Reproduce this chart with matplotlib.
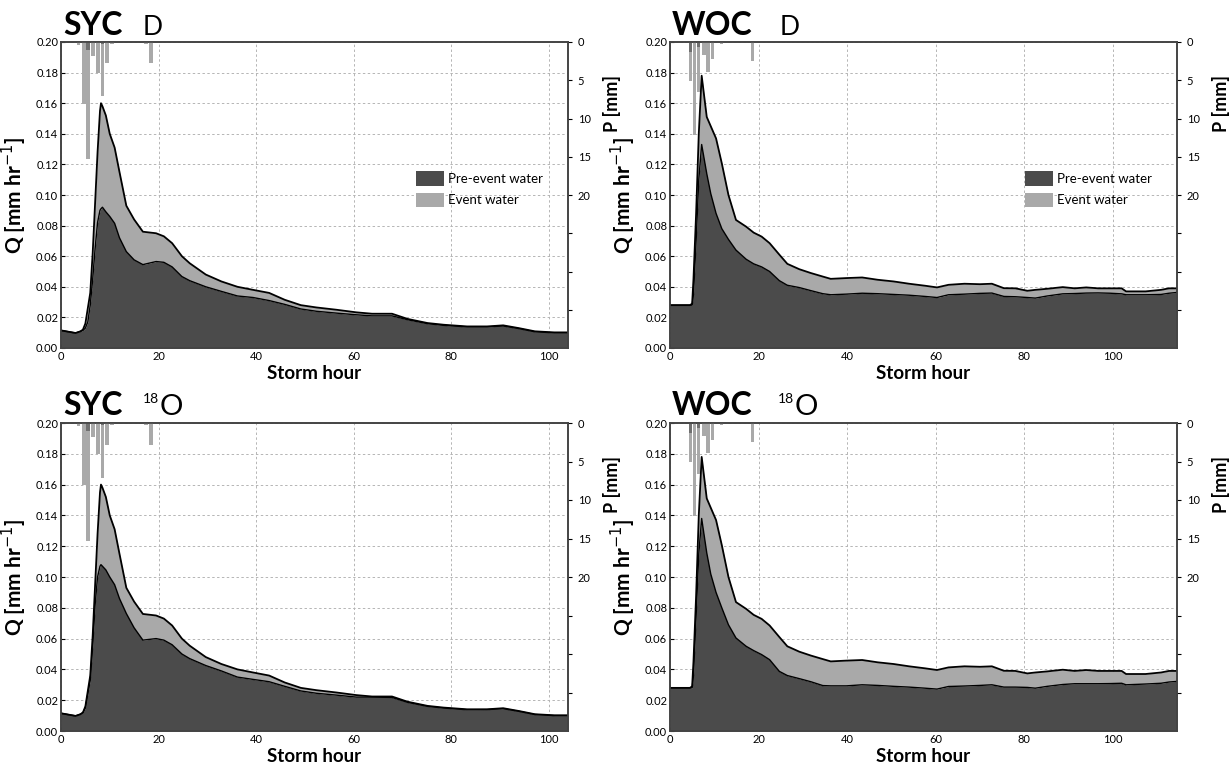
import numpy as np
import matplotlib
matplotlib.use("Agg")
import matplotlib.pyplot as plt
from matplotlib.patches import Patch

plt.rcParams['font.family'] = ['Lato', 'DejaVu Sans']

# ---------------- data ----------------
# SYC catchment
syc_hours = [0, 3, 4, 4.5, 5, 5.5, 6, 6.5, 7, 7.5, 8, 8.2, 8.5, 9.2, 10, 11, 12, 13.4, 15, 16.8,
             19.5, 21.1, 22.8, 24.8, 26.4, 29.7, 32.9, 36.2, 39.4, 42.7, 45.9, 49.2, 52.4, 56.5,
             60.6, 63.8, 67.9, 71.1, 75.2, 78.5, 83.3, 87.4, 90.7, 93.9, 97.2, 101.2, 104]
syc_total = [0.0115, 0.0098, 0.0109, 0.012, 0.016, 0.026, 0.036, 0.062, 0.095, 0.128, 0.155, 0.160,
             0.158, 0.152, 0.140, 0.131, 0.115, 0.093, 0.084, 0.076,
             0.075, 0.073, 0.0685, 0.060, 0.0554, 0.048, 0.0435, 0.040, 0.038, 0.036, 0.0315, 0.028,
             0.0265, 0.025, 0.0233, 0.0224, 0.0224, 0.019, 0.0163, 0.0152, 0.0141, 0.0141, 0.0148,
             0.013, 0.0109, 0.0102, 0.0102]
syc_pre_d = [0.0115, 0.0098, 0.0109, 0.0115, 0.013, 0.017, 0.028, 0.045, 0.065, 0.082, 0.090, 0.091,
             0.092, 0.089, 0.086, 0.0815, 0.072, 0.063, 0.0576, 0.0545,
             0.0565, 0.056, 0.053, 0.0467, 0.044, 0.040, 0.037, 0.034, 0.033, 0.031, 0.0285, 0.0255,
             0.024, 0.0228, 0.0217, 0.021, 0.021, 0.0185, 0.0159, 0.0148, 0.0138, 0.0138, 0.0144,
             0.0127, 0.0106, 0.0099, 0.0099]
syc_pre_o = [0.0115, 0.0098, 0.0109, 0.012, 0.015, 0.024, 0.033, 0.055, 0.082, 0.100, 0.107, 0.108,
             0.107, 0.1046, 0.100, 0.095, 0.086, 0.0763, 0.067, 0.059,
             0.060, 0.059, 0.056, 0.050, 0.047, 0.0425, 0.039, 0.035, 0.0335, 0.032, 0.029, 0.026,
             0.0245, 0.0233, 0.022, 0.022, 0.0218, 0.0186, 0.016, 0.0149, 0.0138, 0.0139, 0.0145,
             0.0128, 0.0107, 0.0100, 0.0100]

# WOC catchment
woc_hours = [0, 4.5, 5, 5.3, 5.9, 6.5, 7.15, 8.3, 9.2, 10.4, 11.7, 13.2, 14.9, 17.2, 18.9, 20.7,
             22.5, 24.7, 26.5, 29.2, 31.8, 34.5, 36.3, 39.8, 43.4, 46.9, 50.5, 54, 57.6, 60.3,
             62.9, 66.5, 70, 72.7, 75.4, 78, 80.7, 82.5, 85.2, 88.7, 91.4, 94, 96.7, 99.4, 102,
             103, 107.4, 110.9, 112.7, 114.5]
woc_total = [0.028, 0.028, 0.029, 0.045, 0.088, 0.140, 0.178, 0.151, 0.145, 0.137, 0.1207, 0.100,
             0.0837, 0.0793, 0.0754, 0.0728, 0.0685, 0.061, 0.055, 0.0515, 0.049, 0.0467, 0.0452,
             0.0457, 0.0461, 0.0446, 0.0435, 0.042, 0.0407, 0.0396, 0.0413, 0.042, 0.0417, 0.042,
             0.0391, 0.039, 0.0374, 0.038, 0.0387, 0.0398, 0.039, 0.0396, 0.039, 0.039, 0.039,
             0.037, 0.037, 0.038, 0.039, 0.039]
woc_pre_d = [0.028, 0.028, 0.028, 0.035, 0.070, 0.110, 0.133, 0.114, 0.101, 0.088, 0.078, 0.071,
             0.064, 0.058, 0.055, 0.053, 0.050, 0.044, 0.041, 0.0395, 0.0375, 0.0355, 0.0348,
             0.0352, 0.0358, 0.0355, 0.035, 0.0345, 0.0337, 0.033, 0.0348, 0.0352, 0.0357, 0.0359,
             0.0337, 0.0335, 0.033, 0.0326, 0.034, 0.0354, 0.0356, 0.0359, 0.036, 0.0358, 0.0354,
             0.0348, 0.0348, 0.035, 0.0358, 0.0363]
woc_pre_o = [0.028, 0.028, 0.028, 0.036, 0.075, 0.115, 0.138, 0.1157, 0.102, 0.090, 0.080, 0.069,
             0.0604, 0.055, 0.0522, 0.0496, 0.0463, 0.0387, 0.036, 0.034, 0.032, 0.0295, 0.0293,
             0.0293, 0.030, 0.0296, 0.029, 0.0285, 0.0278, 0.0272, 0.0289, 0.0292, 0.0296, 0.030,
             0.0285, 0.0285, 0.0283, 0.0278, 0.029, 0.0302, 0.0307, 0.0307, 0.0307, 0.0308, 0.031,
             0.030, 0.0305, 0.031, 0.0318, 0.0322]

# precipitation (hourly bars, mm), light = main gauge, dark = overlapping part
syc_p_hours = [3.6, 4.7, 5.55, 6.5, 7.6, 8.5, 9.5, 10.4, 17.5, 18.4]
syc_p_mm = [0.4, 8.1, 15.3, 1.8, 4.05, 7.1, 2.8, 0.2, 0.3, 2.8]
syc_pd_hours = [5.55, 8.5]
syc_pd_mm = [1.0, 0.3]

woc_p_hours = [4.6, 5.6, 6.5, 7.7, 8.6, 9.6, 11.6, 18.6]
woc_p_mm = [5.1, 12.1, 6.6, 1.65, 3.95, 2.2, 0.2, 2.5]
woc_pd_hours = [4.6, 6.5]
woc_pd_mm = [1.3, 0.7]

# ---------------- style ----------------
DARK = '#4b4b4b'
LIGHT = '#a9a9a9'
W, H = 1231, 777

fig = plt.figure(figsize=(W / 100, H / 100), dpi=100)


def px_rect(l, t, r, b):
    return [l / W, 1 - b / H, (r - l) / W, (b - t) / H]


panels = [
    dict(rect=px_rect(61, 42, 568, 348), h=syc_hours, tot=syc_total, pre=syc_pre_d,
         ph=syc_p_hours, pm=syc_p_mm, pdh=syc_pd_hours, pdm=syc_pd_mm, xmax=104, legend=True,
         name='SYC', name_x=63, name_y=35, iso='D', iso_x=143),
    dict(rect=px_rect(670, 42, 1177, 348), h=woc_hours, tot=woc_total, pre=woc_pre_d,
         ph=woc_p_hours, pm=woc_p_mm, pdh=woc_pd_hours, pdm=woc_pd_mm, xmax=114.5, legend=True,
         name='WOC', name_x=672, name_y=35, iso='D', iso_x=780),
    dict(rect=px_rect(61, 423, 568, 731), h=syc_hours, tot=syc_total, pre=syc_pre_o,
         ph=syc_p_hours, pm=syc_p_mm, pdh=syc_pd_hours, pdm=syc_pd_mm, xmax=104, legend=False,
         name='SYC', name_x=63, name_y=415, iso='O', iso_x=160),
    dict(rect=px_rect(670, 423, 1177, 731), h=woc_hours, tot=woc_total, pre=woc_pre_o,
         ph=woc_p_hours, pm=woc_p_mm, pdh=woc_pd_hours, pdm=woc_pd_mm, xmax=114.5, legend=False,
         name='WOC', name_x=672, name_y=415, iso='O', iso_x=795),
]

for p in panels:
    ax = fig.add_axes(p['rect'])
    h = np.array(p['h'])
    tot = np.array(p['tot'])
    pre = np.array(p['pre'])
    ax.fill_between(h, 0, pre, color=DARK, lw=0, zorder=2)
    ax.fill_between(h, pre, tot, color=LIGHT, lw=0, zorder=2)
    ax.plot(h, tot, color='black', lw=1.3, zorder=3)
    ax.plot(h, pre, color='black', lw=1.0, zorder=3)
    ax.set_xlim(0, p['xmax'])
    ax.set_ylim(0, 0.2)
    ax.set_yticks(np.arange(0, 0.201, 0.02))
    ax.set_yticklabels([f'{v:.2f}' for v in np.arange(0, 0.201, 0.02)])
    ax.set_xticks([0, 20, 40, 60, 80, 100])
    ax.grid(True, color='#b5b5b5', ls=(0, (2.5, 2.5)), lw=0.7, zorder=0)
    ax.set_axisbelow(True)
    ax.tick_params(axis='both', labelsize=8, direction='in', length=3, width=0.8, pad=2)
    for s in ax.spines.values():
        s.set_color('#444444')
        s.set_linewidth(1.2)
    ax.set_xlabel('Storm hour', fontsize=13.5, fontweight='bold', labelpad=2)
    ax.set_ylabel('Q [mm hr$^{-1}$]', fontsize=15, fontweight='bold', labelpad=5)

    ax2 = ax.twinx()
    ax2.bar(p['ph'], p['pm'], width=0.75, color=LIGHT, lw=0, zorder=1)
    ax2.bar(p['pdh'], p['pdm'], width=0.75, color='#707070', lw=0, zorder=1)
    ax2.set_ylim(40, 0)
    ax2.set_yticks(np.arange(0, 36, 5))
    ax2.set_yticklabels(['0', '5', '10', '15', '20', '', '', ''])
    ax2.tick_params(axis='y', labelsize=8, direction='out', length=3, width=0.8, pad=4)
    ax2.set_ylabel('P [mm]', fontsize=13, fontweight='bold')
    ax2.yaxis.set_label_coords(1.07, 0.80)
    for s in ax2.spines.values():
        s.set_color('#444444')
        s.set_linewidth(1.2)

    if p['legend']:
        handles = [Patch(facecolor=DARK, edgecolor='none', label='Pre-event water'),
                   Patch(facecolor=LIGHT, edgecolor='none', label='Event water')]
        ax2.legend(handles=handles, loc='upper left', bbox_to_anchor=(0.69, 0.595),
                   frameon=False, fontsize=9.5, handlelength=2.1, handleheight=1.35,
                   labelspacing=0.5, handletextpad=0.35, borderaxespad=0)

    fig.text(p['name_x'] / W, 1 - p['name_y'] / H, p['name'], fontsize=23,
             fontweight='bold', va='baseline', ha='left')
    if p['iso'] == 'D':
        fig.text(p['iso_x'] / W, 1 - p['name_y'] / H, 'D', fontsize=19,
                 va='baseline', ha='left')
    else:
        fig.text((p['iso_x'] - 17) / W, 1 - (p['name_y'] - 12) / H, '18', fontsize=10,
                 va='baseline', ha='left')
        fig.text(p['iso_x'] / W, 1 - p['name_y'] / H, 'O', fontsize=21,
                 va='baseline', ha='left')

fig.savefig('out.png', dpi=100)
